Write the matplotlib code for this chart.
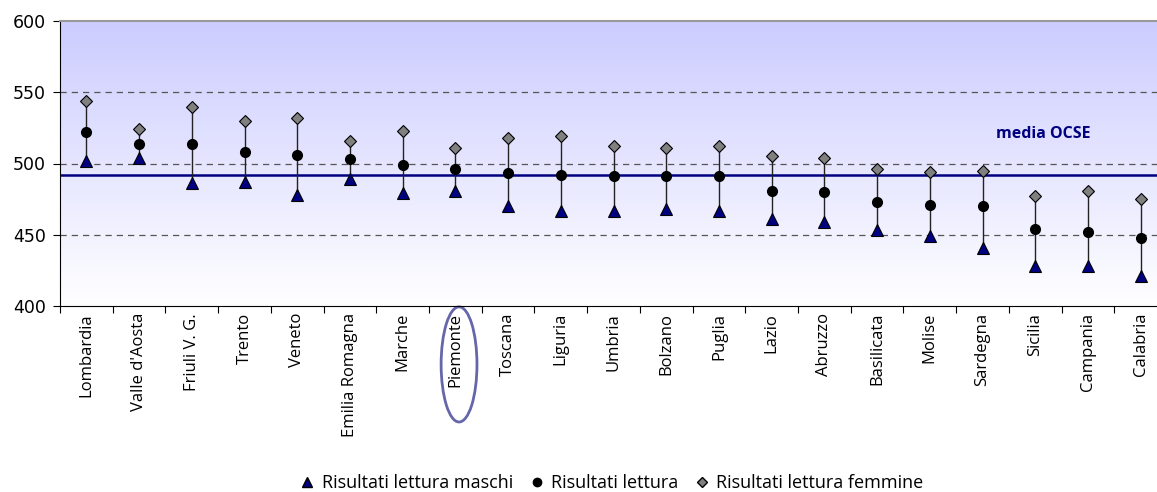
import matplotlib
matplotlib.use("Agg")
import matplotlib.pyplot as plt
import numpy as np
from matplotlib.patches import Ellipse
from matplotlib.lines import Line2D
from matplotlib.transforms import blended_transform_factory

regions = [
    "Lombardia", "Valle d'Aosta", "Friuli V. G.", "Trento", "Veneto",
    "Emilia Romagna", "Marche", "Piemonte", "Toscana", "Liguria", "Umbria",
    "Bolzano", "Puglia", "Lazio", "Abruzzo", "Basilicata", "Molise",
    "Sardegna", "Sicilia", "Campania", "Calabria",
]
lettura_maschi = [502, 504, 486, 487, 478, 489, 479, 481, 470, 467, 467,
                  468, 467, 461, 459, 453, 449, 441, 428, 428, 421]
lettura = [522, 514, 514, 508, 506, 503, 499, 496, 493, 492, 491,
           491, 491, 481, 480, 473, 471, 470, 454, 452, 448]
lettura_femmine = [544, 524, 540, 530, 532, 516, 523, 511, 518, 519, 512,
                   511, 512, 505, 504, 496, 494, 495, 477, 481, 475]
media_ocse = 492
highlight = "Piemonte"

fig = plt.figure(figsize=(11.57, 4.92), dpi=100)
# plot area runs slightly past the right edge of the picture
ax = fig.add_axes([60 / 1157, 1 - 306 / 492, 1107 / 1157, 285 / 492])

x = np.arange(len(regions))
ax.set_xlim(-0.5, len(regions) - 0.5)

# gradient background: lavender at top fading to white
grad = np.linspace(0, 1, 256).reshape(-1, 1)
top = np.array([0xCC, 0xCC, 0xFF]) / 255
img = top * (1 - grad[..., None]) + np.ones(3) * grad[..., None]
ax.imshow(img, extent=(-0.5, len(regions) - 0.5, 400, 600), aspect="auto",
          origin="upper", zorder=0)
ax.set_ylim(400, 600)

for yv in (450, 500, 550):
    ax.axhline(yv, color="#555555", lw=0.9, ls=(0, (5, 4)), zorder=1)

ax.axhline(media_ocse, color="#000080", lw=1.8, zorder=2)
ax.text(18.15, 520.5, "media OCSE", color="#000080", fontsize=11.5,
        fontweight="bold", family="Open Sans", ha="center", va="center")

ax.vlines(x, lettura_maschi, lettura_femmine, color="#222222", lw=1.0,
          zorder=3)
ax.plot(x, lettura_maschi, ls="none", marker="^", ms=8.5, mfc="#000080",
        mec="black", mew=0.8, zorder=4)
ax.plot(x, lettura, ls="none", marker="o", ms=7, mfc="black", mec="black",
        zorder=4)
ax.plot(x, lettura_femmine, ls="none", marker="D", ms=6, mfc="#808080",
        mec="black", mew=0.8, zorder=4)

ax.set_yticks([400, 450, 500, 550, 600])
ax.tick_params(axis="y", labelsize=12.5, length=5, direction="out", pad=5)
ax.set_xticks(np.arange(-0.5, len(regions)), minor=False)
ax.set_xticklabels([])
ax.set_xticks(x, minor=True)
ax.set_xticklabels(regions, minor=True, rotation=90, family="Open Sans",
                   fontsize=12, va="top")
ax.tick_params(axis="x", which="major", length=5, direction="out")
ax.tick_params(axis="x", which="minor", length=0, pad=5)

ax.spines["right"].set_visible(False)
ax.spines["top"].set_color("#999999")
ax.spines["top"].set_linewidth(1.5)

# circle around the highlighted region label
trans = blended_transform_factory(ax.transData, ax.transAxes)
ell = Ellipse((regions.index(highlight) + 0.07, -0.205), 0.68, 0.404,
              transform=trans, fill=False, edgecolor="#6666AA", lw=2,
              clip_on=False)
ax.add_patch(ell)

handles = [
    Line2D([], [], ls="none", marker="^", ms=7, mfc="#000080", mec="black"),
    Line2D([], [], ls="none", marker="o", ms=6, mfc="black", mec="black"),
    Line2D([], [], ls="none", marker="D", ms=5, mfc="#808080", mec="black"),
]
labels = ["Risultati lettura maschi", "Risultati lettura",
          "Risultati lettura femmine"]
fig.legend(handles, labels, loc="center", bbox_to_anchor=(0.528, 0.018),
           ncol=3, frameon=False, prop={"family": "Open Sans", "size": 13},
           handletextpad=0.3, columnspacing=0.8, handlelength=1.0)

fig.savefig("out.png", dpi=100)
